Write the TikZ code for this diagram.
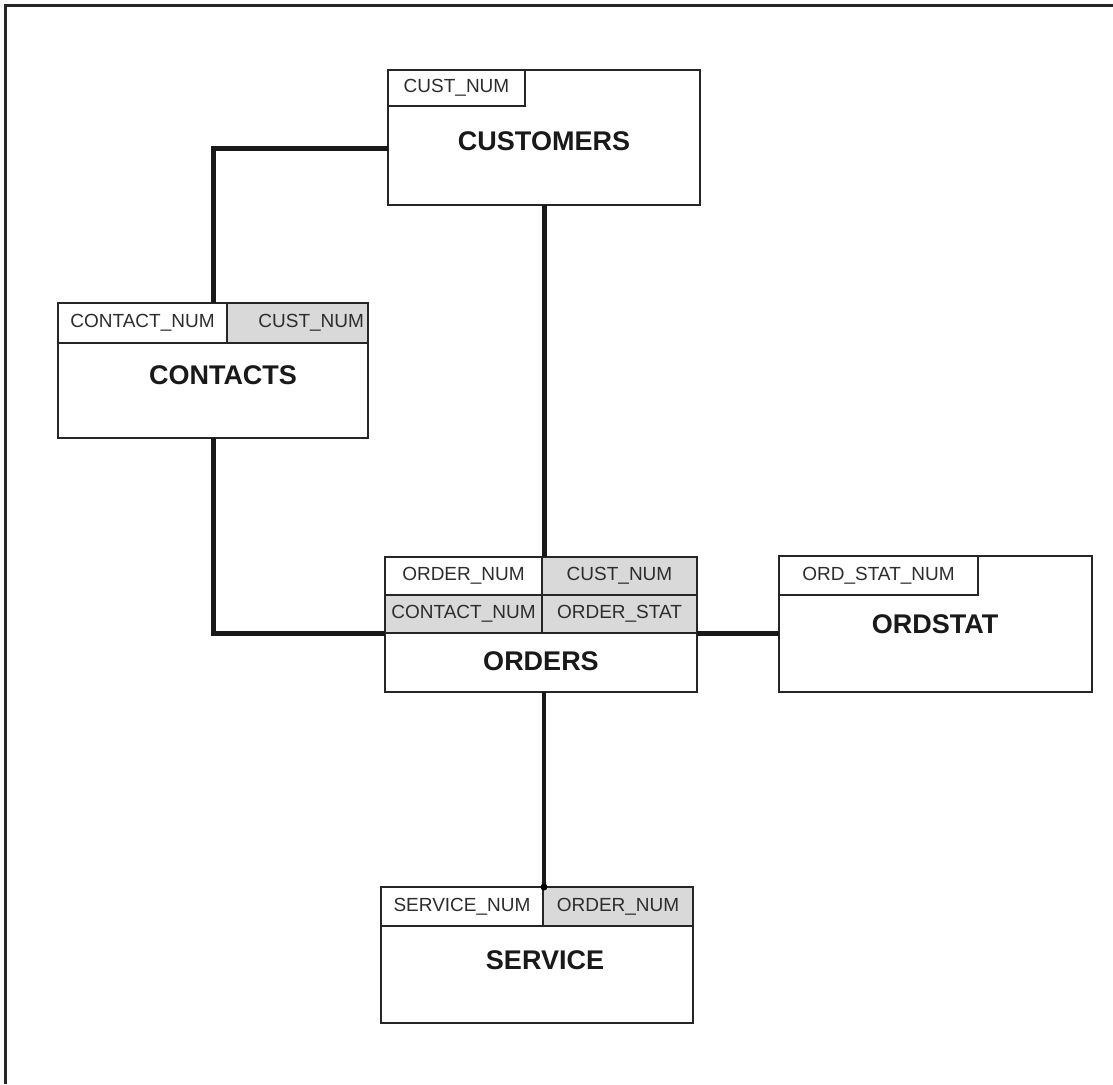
\documentclass[tikz,border=0pt]{standalone}
\usepackage{fontspec}
\setmainfont{Liberation Sans}
\definecolor{keygray}{RGB}{217,217,217}
\definecolor{keytext}{RGB}{45,45,45}
\begin{document}
\begin{tikzpicture}[x=1pt,y=-1pt,
  entity/.style={draw=black!85, line width=2pt, rectangle, inner sep=0pt, outer sep=0pt, fill=white},
  keycell/.style={draw=black!85, line width=2pt, rectangle, inner sep=0pt, outer sep=0pt, anchor=north west,
    font=\fontsize{19}{22}\selectfont, text=keytext},
  fk/.style={keycell, fill=keygray},
  title/.style={font=\fontsize{27}{30}\selectfont\bfseries, text=black!90},
  rel/.style={line width=5pt, black!90},
  relthin/.style={line width=3.5pt, black!90}
]
\useasboundingbox (0,0) rectangle (1113,1084);
% frame
\coordinate (ftl) at (5,5);
\coordinate (ftr) at (1113,5);
\coordinate (fbl) at (5,1084);
\draw[line width=3pt, black!85] (ftr) -- (ftl) -- (fbl);

% CUSTOMERS
\node[entity, minimum width=312pt, minimum height=135pt] (cust) at (544,137.5) {};
\node[keycell, minimum width=137pt, minimum height=36pt] (custK) at (cust.north west) {CUST\_NUM};
\node[title] (custT) at (544,141) {CUSTOMERS};

% CONTACTS
\node[entity, minimum width=310pt, minimum height=135pt] (cont) at (213,370.5) {};
\node[keycell, minimum width=169pt, minimum height=40pt] (contK1) at (cont.north west) {CONTACT\_NUM};
\node[fk, minimum width=141pt, minimum height=40pt, text width=133pt, align=right] (contK2) at (contK1.north east) {CUST\_NUM};
\node[title] (contT) at (223,375) {CONTACTS};

% ORDERS
\node[entity, minimum width=312pt, minimum height=135pt] (ord) at (541,624.5) {};
\node[keycell, minimum width=157pt, minimum height=38pt] (ordK1) at (ord.north west) {ORDER\_NUM};
\node[fk, minimum width=155pt, minimum height=38pt] (ordK2) at (ordK1.north east) {CUST\_NUM};
\node[fk, minimum width=157pt, minimum height=38pt] (ordK3) at (ordK1.south west) {CONTACT\_NUM};
\node[fk, minimum width=155pt, minimum height=38pt] (ordK4) at (ordK3.north east) {ORDER\_STAT};
\node[title] (ordT) at (541,661) {ORDERS};

% ORDSTAT
\node[entity, minimum width=313pt, minimum height=136pt] (ost) at (935.5,624) {};
\node[keycell, minimum width=199pt, minimum height=39pt] (ostK) at (ost.north west) {ORD\_STAT\_NUM};
\node[title] (ostT) at (935,624) {ORDSTAT};

% SERVICE
\node[entity, minimum width=312pt, minimum height=136pt] (serv) at (537,955) {};
\node[keycell, minimum width=162pt, minimum height=39pt] (servK1) at (serv.north west) {SERVICE\_NUM};
\node[fk, minimum width=150pt, minimum height=39pt] (servK2) at (servK1.north east) {ORDER\_NUM};
\node[title] (servT) at (545,960) {SERVICE};

% relationships
\draw[rel] ([yshift=-10.5pt]cust.west) -| (cont.north);
\draw[rel] (cust.south) -- (cust.south |- ord.north);
\draw[rel] (cont.south) |- (ordK3.south west);
\draw[rel] (ordK4.south east) -- (ordK4.south east -| ost.west);
\draw[relthin] ([xshift=3pt]ord.south) -- ([xshift=3pt]ord.south |- serv.north);
\fill[black] ([xshift=3pt]ord.south |- serv.north) circle (3.5pt);
\end{tikzpicture}
\end{document}
